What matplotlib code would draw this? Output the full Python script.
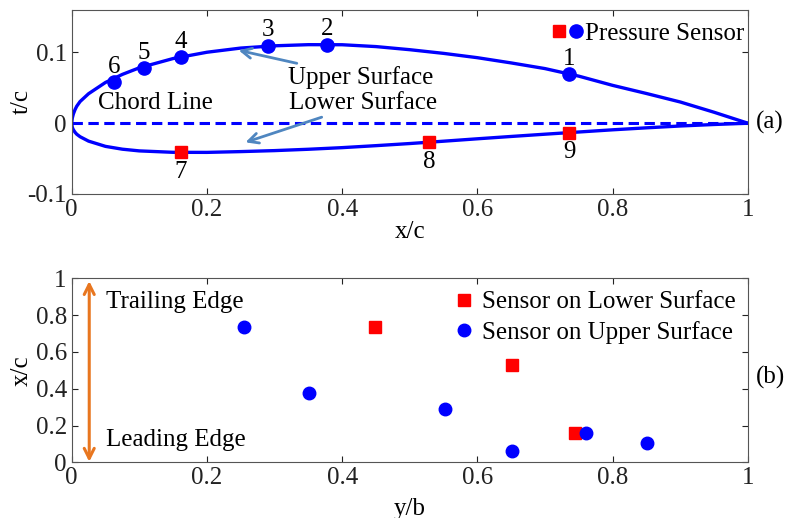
import matplotlib.pyplot as plt
from matplotlib.legend_handler import HandlerTuple
from matplotlib.lines import Line2D

plt.rcParams['font.family'] = ['Liberation Serif', 'DejaVu Serif']
plt.rcParams['font.size'] = 18
plt.rcParams['xtick.direction'] = 'in'
plt.rcParams['ytick.direction'] = 'in'
plt.rcParams['xtick.top'] = True
plt.rcParams['ytick.right'] = True

# airfoil contour
upper_x = [0.0, 0.001, 0.0025, 0.005, 0.0075, 0.0125, 0.025, 0.05, 0.075, 0.1, 0.15, 0.2,
           0.25, 0.3, 0.35, 0.4, 0.45, 0.5, 0.55, 0.6, 0.65, 0.7, 0.75, 0.8, 0.85, 0.9,
           0.95, 1.0]
upper_t = [0.0, 0.0075, 0.0130, 0.0192, 0.0240, 0.0307, 0.0417, 0.0576, 0.0690, 0.0783,
           0.0914, 0.1003, 0.1062, 0.1094, 0.1110, 0.1109, 0.1083, 0.1039, 0.0987, 0.0926,
           0.0852, 0.0772, 0.0665, 0.0535, 0.0420, 0.0300, 0.0155, 0.0]
lower_x = [0.0, 0.001, 0.0025, 0.005, 0.0075, 0.0125, 0.025, 0.05, 0.075, 0.1, 0.15, 0.2,
           0.25, 0.3, 0.35, 0.4, 0.45, 0.5, 0.55, 0.6, 0.65, 0.7, 0.75, 0.8, 0.85, 0.9,
           0.95, 1.0]
lower_t = [0.0, -0.0060, -0.0092, -0.0128, -0.0155, -0.0191, -0.0253, -0.0327, -0.0367,
           -0.0391, -0.0411, -0.0412, -0.0401, -0.0387, -0.0368, -0.0345, -0.0317, -0.0287,
           -0.0254, -0.0220, -0.0187, -0.0155, -0.0124, -0.0093, -0.0065, -0.0039, -0.0018,
           0.0]

# sensors on upper surface (1-6) and lower surface (7-9)
up_ids = ['1', '2', '3', '4', '5', '6']
up_xc = [0.736, 0.378, 0.290, 0.162, 0.107, 0.063]
up_tc = [0.0695, 0.1112, 0.1096, 0.0930, 0.0780, 0.0583]
up_yb = [0.255, 0.351, 0.552, 0.761, 0.851, 0.651]

low_ids = ['7', '8', '9']
low_xc = [0.161, 0.529, 0.736]
low_tc = [-0.0412, -0.0267, -0.0133]
low_yb = [0.745, 0.651, 0.448]

blue = '#0000ff'
red = '#ff0000'
arrow_c = '#4f86c0'
orange = '#e8761f'

fig = plt.figure(figsize=(7.9, 5.18), dpi=100)
ax1 = fig.add_axes([0.0907, 0.6255, 0.856, 0.3552])
ax2 = fig.add_axes([0.0907, 0.1075, 0.856, 0.3552])

# (a) airfoil
ax1.plot(upper_x, upper_t, color=blue, lw=2.4)
ax1.plot(lower_x, lower_t, color=blue, lw=2.4)
ax1.plot([0, 1], [0, 0], color=blue, lw=2.2, ls=(0, (3.4, 1.8)))
ax1.plot(up_xc, up_tc, 'o', color=blue, ms=9.5)
ax1.plot(low_xc, low_tc, 's', color=red, ms=9)
for i, x, t in zip(up_ids, up_xc, up_tc):
    ax1.annotate(i, (x, t), xytext=(0, 11), textcoords='offset points', ha='center', va='center')
for i, x, t in zip(low_ids, low_xc, low_tc):
    ax1.annotate(i, (x, t), xytext=(0, -14), textcoords='offset points', ha='center', va='center')

ax1.annotate('Upper Surface', xy=(0.247, 0.103), xytext=(0.32, 0.0645), va='center',
             arrowprops=dict(arrowstyle='->', color=arrow_c, lw=2, shrinkA=0, shrinkB=0,
                             mutation_scale=18))
ax1.annotate('Lower Surface', xy=(0.257, -0.027), xytext=(0.322, 0.028), va='center',
             arrowprops=dict(arrowstyle='->', color=arrow_c, lw=2, shrinkA=0, shrinkB=0,
                             mutation_scale=18))
ax1.text(0.039, 0.028, 'Chord Line', va='center')

ax1.set_xlim(0, 1)
ax1.set_ylim(-0.1, 0.16)
ax1.set_xticks([0, 0.2, 0.4, 0.6, 0.8, 1])
ax1.set_xticklabels(['0', '0.2', '0.4', '0.6', '0.8', '1'])
ax1.set_yticks([-0.1, 0, 0.1])
ax1.set_yticklabels(['-0.1', '0', '0.1'])
ax1.set_xlabel('x/c', labelpad=0)
ax1.set_ylabel('t/c')
ax1.yaxis.set_label_coords(-0.057, 0.5)

sq = Line2D([], [], marker='s', ls='', color=red, ms=9)
ci = Line2D([], [], marker='o', ls='', color=blue, ms=9.5)
ax1.legend([(sq, ci)], ['Pressure Sensor'], handler_map={tuple: HandlerTuple(ndivide=None, pad=0.05)},
           loc='upper right', bbox_to_anchor=(1.0, 0.955), frameon=False, handlelength=1.3,
           handletextpad=0.05, borderaxespad=0.05, borderpad=0.1)

# (b) sensor layout
ax2.plot(low_yb, low_xc, 's', color=red, ms=9, label='Sensor on Lower Surface')
ax2.plot(up_yb, up_xc, 'o', color=blue, ms=9, label='Sensor on Upper Surface')
ax2.annotate('', xy=(0.026, 0.985), xytext=(0.026, 0.003),
             arrowprops=dict(arrowstyle='<->', color=orange, lw=2.2, shrinkA=0, shrinkB=0,
                             mutation_scale=18))
ax2.text(0.051, 0.873, 'Trailing Edge', va='center')
ax2.text(0.051, 0.121, 'Leading Edge', va='center')

ax2.set_xlim(0, 1)
ax2.set_ylim(0, 1)
ax2.set_xticks([0, 0.2, 0.4, 0.6, 0.8, 1])
ax2.set_xticklabels(['0', '0.2', '0.4', '0.6', '0.8', '1'])
ax2.set_yticks([0, 0.2, 0.4, 0.6, 0.8, 1])
ax2.set_yticklabels(['0', '0.2', '0.4', '0.6', '0.8', '1'])
ax2.set_xlabel('y/b', labelpad=6)
ax2.set_ylabel('x/c')
ax2.yaxis.set_label_coords(-0.057, 0.5)
ax2.legend(loc='upper right', frameon=False, handlelength=0.6, handletextpad=0.4,
           borderaxespad=0.3, labelspacing=0.3, borderpad=0.2)

for ax in (ax1, ax2):
    for s in ax.spines.values():
        s.set_color('#555555')
    ax.tick_params(colors='#222222', labelcolor='#222222', length=4)

fig.text(0.957, 0.764, '(a)', va='center')
fig.text(0.957, 0.272, '(b)', va='center')

fig.savefig('out.png', dpi=100)
